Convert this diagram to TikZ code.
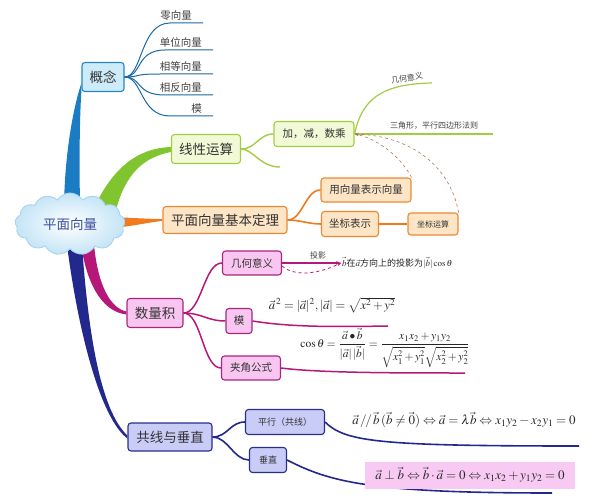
\documentclass[tikz,border=0pt]{standalone}
\usepackage{amsmath,amssymb}
\usepackage{mathptmx}
\usepackage{fontspec}
\setmainfont{Noto Sans CJK SC}
\usetikzlibrary{shapes.symbols,arrows.meta,backgrounds}

\definecolor{blueline}{HTML}{1B7CC4}
\definecolor{bluefill}{HTML}{CDEBF9}
\definecolor{blueedge}{HTML}{2288C8}
\definecolor{greenline}{HTML}{80C530}
\definecolor{greenfill}{HTML}{F2F9D6}
\definecolor{greenedge}{HTML}{A3CC45}
\definecolor{orangeline}{HTML}{F07A1E}
\definecolor{orangefill}{HTML}{FDE5C5}
\definecolor{orangeedge}{HTML}{EA8A35}
\definecolor{pinkline}{HTML}{B51878}
\definecolor{pinkfill}{HTML}{F8C6F1}
\definecolor{pinkedge}{HTML}{A8267D}
\definecolor{navyline}{HTML}{23288C}
\definecolor{navyfill}{HTML}{C9CCF6}
\definecolor{navyedge}{HTML}{2A2E86}
\definecolor{cloudedge}{HTML}{A8D4EE}
\definecolor{cloudfill}{HTML}{C4E4F6}
\definecolor{cloudtext}{HTML}{3B4FA0}
\definecolor{dashbrown}{HTML}{A87A58}
\definecolor{hilite}{HTML}{F7C9F3}

\newcommand\fbig{\fontsize{13.5}{15}\selectfont}
\newcommand\fmid{\fontsize{10.5}{12}\selectfont}
\newcommand\fsmall{\fontsize{9}{11}\selectfont}
\newcommand\ftiny{\fontsize{8}{10}\selectfont}

\tikzset{
  box/.style={rounded corners=3pt, line width=1.1pt, inner sep=2pt, text=black!80},
  bluebox/.style={box, draw=blueedge, fill=bluefill},
  greenbox/.style={box, draw=greenedge, fill=greenfill},
  orangebox/.style={box, draw=orangeedge, fill=orangefill},
  pinkbox/.style={box, draw=pinkedge, fill=pinkfill},
  navybox/.style={box, draw=navyedge, fill=navyfill},
  leaf/.style={inner sep=1pt, font=\fmid, text=black!75},
  blueleaf/.style={draw=blueline!85!black, line width=1pt},
  greenbr/.style={draw=greenedge, line width=1.4pt},
  orangebr/.style={draw=orangeline, line width=1.6pt},
  pinkbr/.style={draw=pinkline, line width=1.5pt},
  navybr/.style={draw=navyline, line width=1.6pt},
  formula/.style={inner sep=1pt, text=black!85},
}

\begin{document}
\begin{tikzpicture}[x=1pt,y=-1pt]
        \useasboundingbox (0,0) rectangle (597,500);

        % centre
        \node[cloud, cloud puffs=13, cloud puff arc=115, aspect=1.8,
              minimum width=110pt, minimum height=62pt, draw=cloudedge,
              line width=0.9pt, inner color=white, outer color=cloudfill,
              font=\fbig, text=cloudtext] (root) at (70,224) {平面向量};

        % main boxes
        \node[bluebox, minimum width=42pt, minimum height=29pt, font=\fbig] (gainian) at (103,77) {概念};
        \node[greenbox, minimum width=69pt, minimum height=29pt, font=\fbig] (xianxing) at (206,149) {线性运算};
        \node[orangebox, minimum width=124pt, minimum height=27pt, font=\fbig] (pingmian) at (225,220) {平面向量基本定理};
        \node[pinkbox, minimum width=56pt, minimum height=29pt, font=\fbig] (shuliang) at (155,313) {数量积};
        \node[navybox, minimum width=84pt, minimum height=28pt, font=\fbig] (gongxian) at (170,437) {共线与垂直};

        % second level
        \node[greenbox, minimum width=80pt, minimum height=25pt, font=\fmid] (jiajian) at (314,134) {加，减，数乘};
        \node[orangebox, minimum width=90pt, minimum height=24pt, font=\fmid] (yongxiang) at (366,190) {用向量表示向量};
        \node[orangebox, minimum width=57pt, minimum height=25pt, font=\fmid] (zuobiao) at (350,224) {坐标表示};
        \node[orangebox, minimum width=50pt, minimum height=22pt, font=\ftiny] (zbys) at (433,224) {坐标运算};
        \node[pinkbox, minimum width=59pt, minimum height=24pt, font=\fmid] (jihe) at (252,263) {几何意义};
        \node[pinkbox, minimum width=26pt, minimum height=25pt, font=\fmid] (mo) at (239,321) {模};
        \node[pinkbox, minimum width=59pt, minimum height=24pt, font=\fmid] (jiajiao) at (251,368) {夹角公式};
        \node[navybox, minimum width=79pt, minimum height=25pt, font=\fsmall] (pingxing) at (285,422) {平行（共线）};
        \node[navybox, minimum width=37pt, minimum height=25pt, font=\fsmall] (chuizhi) at (268,460) {垂直};

        % tapered trunks, behind the cloud
        \begin{scope}[on background layer]
        \fill[blueline] (64,205) .. controls (65,150) and (74,105) .. ([yshift=-6pt]gainian.west)
              -- ([yshift=-13pt]gainian.west) .. controls (80,112) and (79,150) .. (80,205) -- cycle;
        \fill[greenline] (94,208) .. controls (114,165) and (140,148) .. ([yshift=2pt]xianxing.west)
              -- ([yshift=-3pt]xianxing.west) .. controls (145,157) and (126,172) .. (116,210) -- cycle;
        \fill[orangeline] (112,217) .. controls (135,218) and (150,219) .. ([yshift=1pt]pingmian.west)
              -- ([yshift=-1pt]pingmian.west) .. controls (150,222) and (135,226) .. (112,228) -- cycle;
        \fill[pinkline] (94,245) .. controls (98,285) and (110,308) .. ([yshift=1.5pt]shuliang.west)
              -- ([yshift=-1.5pt]shuliang.west) .. controls (105,312) and (88,290) .. (81,245) -- cycle;
        \fill[navyline] (82,245) .. controls (88,330) and (100,410) .. ([yshift=1.5pt]gongxian.west)
              -- ([yshift=-1.5pt]gongxian.west) .. controls (100,418) and (78,330) .. (67,245) -- cycle;
        \end{scope}

        % leaves of the concept box
        \foreach \name/\txt/\y/\xs/\xe in {zero/零向量/23/170/203, unit/单位向量/50/165/213,
              equal/相等向量/74/160/213, oppo/相反向量/95/165/213, modu/模/116/170/213}{
          \coordinate (\name s) at (\xs,\y);
          \coordinate (\name e) at (\xe,\y);
          \node[leaf, anchor=south east] (\name) at ([xshift=-10pt,yshift=1pt]\name e) {\txt};
          \draw[blueleaf] (gainian.east) .. controls +(18,0) and +(-30,0) .. (\name s) -- (\name e);
        }

        % linear operations
        \coordinate (emptyE) at (280,167);
        \draw[greenbr] (xianxing.east) .. controls +(15,0) and +(-15,0) .. (jiajian.west);
        \draw[greenbr] (xianxing.east) .. controls +(12,0) and +(-20,0) .. (emptyE);
        \coordinate (jhE) at (432,83);
        \coordinate (sjE) at (493,134);
        \draw[greenbr, line width=1.2pt] (jiajian.east) .. controls (362,100) and (380,84) .. (jhE);
        \draw[greenbr, line width=1.2pt] (jiajian.east) -- (sjE);
        \node[leaf, font=\ftiny, rotate=9] (jhText) at (407,78) {几何意义};
        \node[leaf, font=\ftiny] (sjText) at (434,126) {三角形，平行四边形法则};
        \draw[dashbrown, dashed, line width=0.6pt, -{Stealth[length=4pt]}]
              (yongxiang.north east) .. controls (400,155) and (375,138) .. (jiajian.east);
        \draw[dashbrown, dashed, line width=0.6pt, -{Stealth[length=4pt]}]
              (zbys.north east) .. controls (450,165) and (410,136) .. (jiajian.east);

        % basic theorem
        \draw[orangebr] (pingmian.east) .. controls +(15,0) and +(-15,0) .. (yongxiang.west);
        \draw[orangebr] (pingmian.east) .. controls +(12,0) and +(-12,0) .. (zuobiao.west);
        \draw[orangebr] (zuobiao.east) -- (zbys.west);

        % scalar product
        \draw[pinkbr] (shuliang.east) .. controls +(18,0) and +(-18,0) .. (jihe.west);
        \draw[pinkbr] (shuliang.east) .. controls +(18,0) and +(-18,0) .. (mo.west);
        \draw[pinkbr] (shuliang.east) .. controls +(18,0) and +(-18,0) .. (jiajiao.west);

        \node[formula, font=\fsmall, anchor=west] (tyText) at (341,263)
              {$\vec b$在$\vec a$方向上的投影为$|\vec b|\cos\theta$};
        \draw[pinkbr, -{Stealth[length=5pt]}] (jihe.east) -- (tyText.west);
        \draw[pinkbr, dashed, line width=0.8pt, -{Stealth[length=4pt]}]
              ([yshift=-3pt]jihe.east) .. controls (295,277) and (318,274) .. (tyText.west);
        \node[leaf, font=\ftiny] (tyLabel) at (318,255) {投影};

        \coordinate (moE) at (388,326);
        \draw[pinkbr] (mo.east) .. controls (290,327) and (330,327) .. (moE);
        \node[formula, font=\fontsize{12.5}{14}\selectfont] (moText) at (332,305)
              {$\vec a^{\,2}=|\vec a|^2,|\vec a|=\sqrt{x^2+y^2}$};

        \coordinate (jjE) at (465,373);
        \draw[pinkbr] (jiajiao.east) .. controls (320,373) and (400,373) .. (jjE);
        \node[formula, font=\fontsize{11.5}{13}\selectfont] (jjText) at (385,348)
              {$\cos\theta=\dfrac{\vec a\bullet\vec b}{|\vec a|\,|\vec b|}
               =\dfrac{x_1x_2+y_1y_2}{\sqrt{x_1^2+y_1^2}\sqrt{x_2^2+y_2^2}}$};

        % collinear and perpendicular
        \draw[navybr] (gongxian.east) .. controls +(15,0) and +(-15,0) .. (pingxing.west);
        \draw[navybr] (gongxian.east) .. controls +(15,0) and +(-15,0) .. (chuizhi.west);

        \coordinate (pxE) at (579,446);
        \draw[navybr] (pingxing.east) .. controls (345,442) and (380,446) .. (pxE);
        \node[formula, font=\fontsize{13}{15}\selectfont] (pxText) at (464,420)
              {$\vec a\,/\!/\,\vec b\,(\vec b\neq\vec 0)\Leftrightarrow\vec a=\lambda\vec b\Leftrightarrow x_1y_2-x_2y_1=0$};

        \coordinate (czE) at (552,493);
        \draw[navybr] (chuizhi.east) .. controls (330,482) and (370,493) .. (czE);
        \node[formula, fill=hilite, minimum width=210pt, minimum height=27pt, font=\fontsize{13}{15}\selectfont] (czText) at (470,475)
              {$\vec a\perp\vec b\Leftrightarrow\vec b\cdot\vec a=0\Leftrightarrow x_1x_2+y_1y_2=0$};
\end{tikzpicture}
\end{document}
